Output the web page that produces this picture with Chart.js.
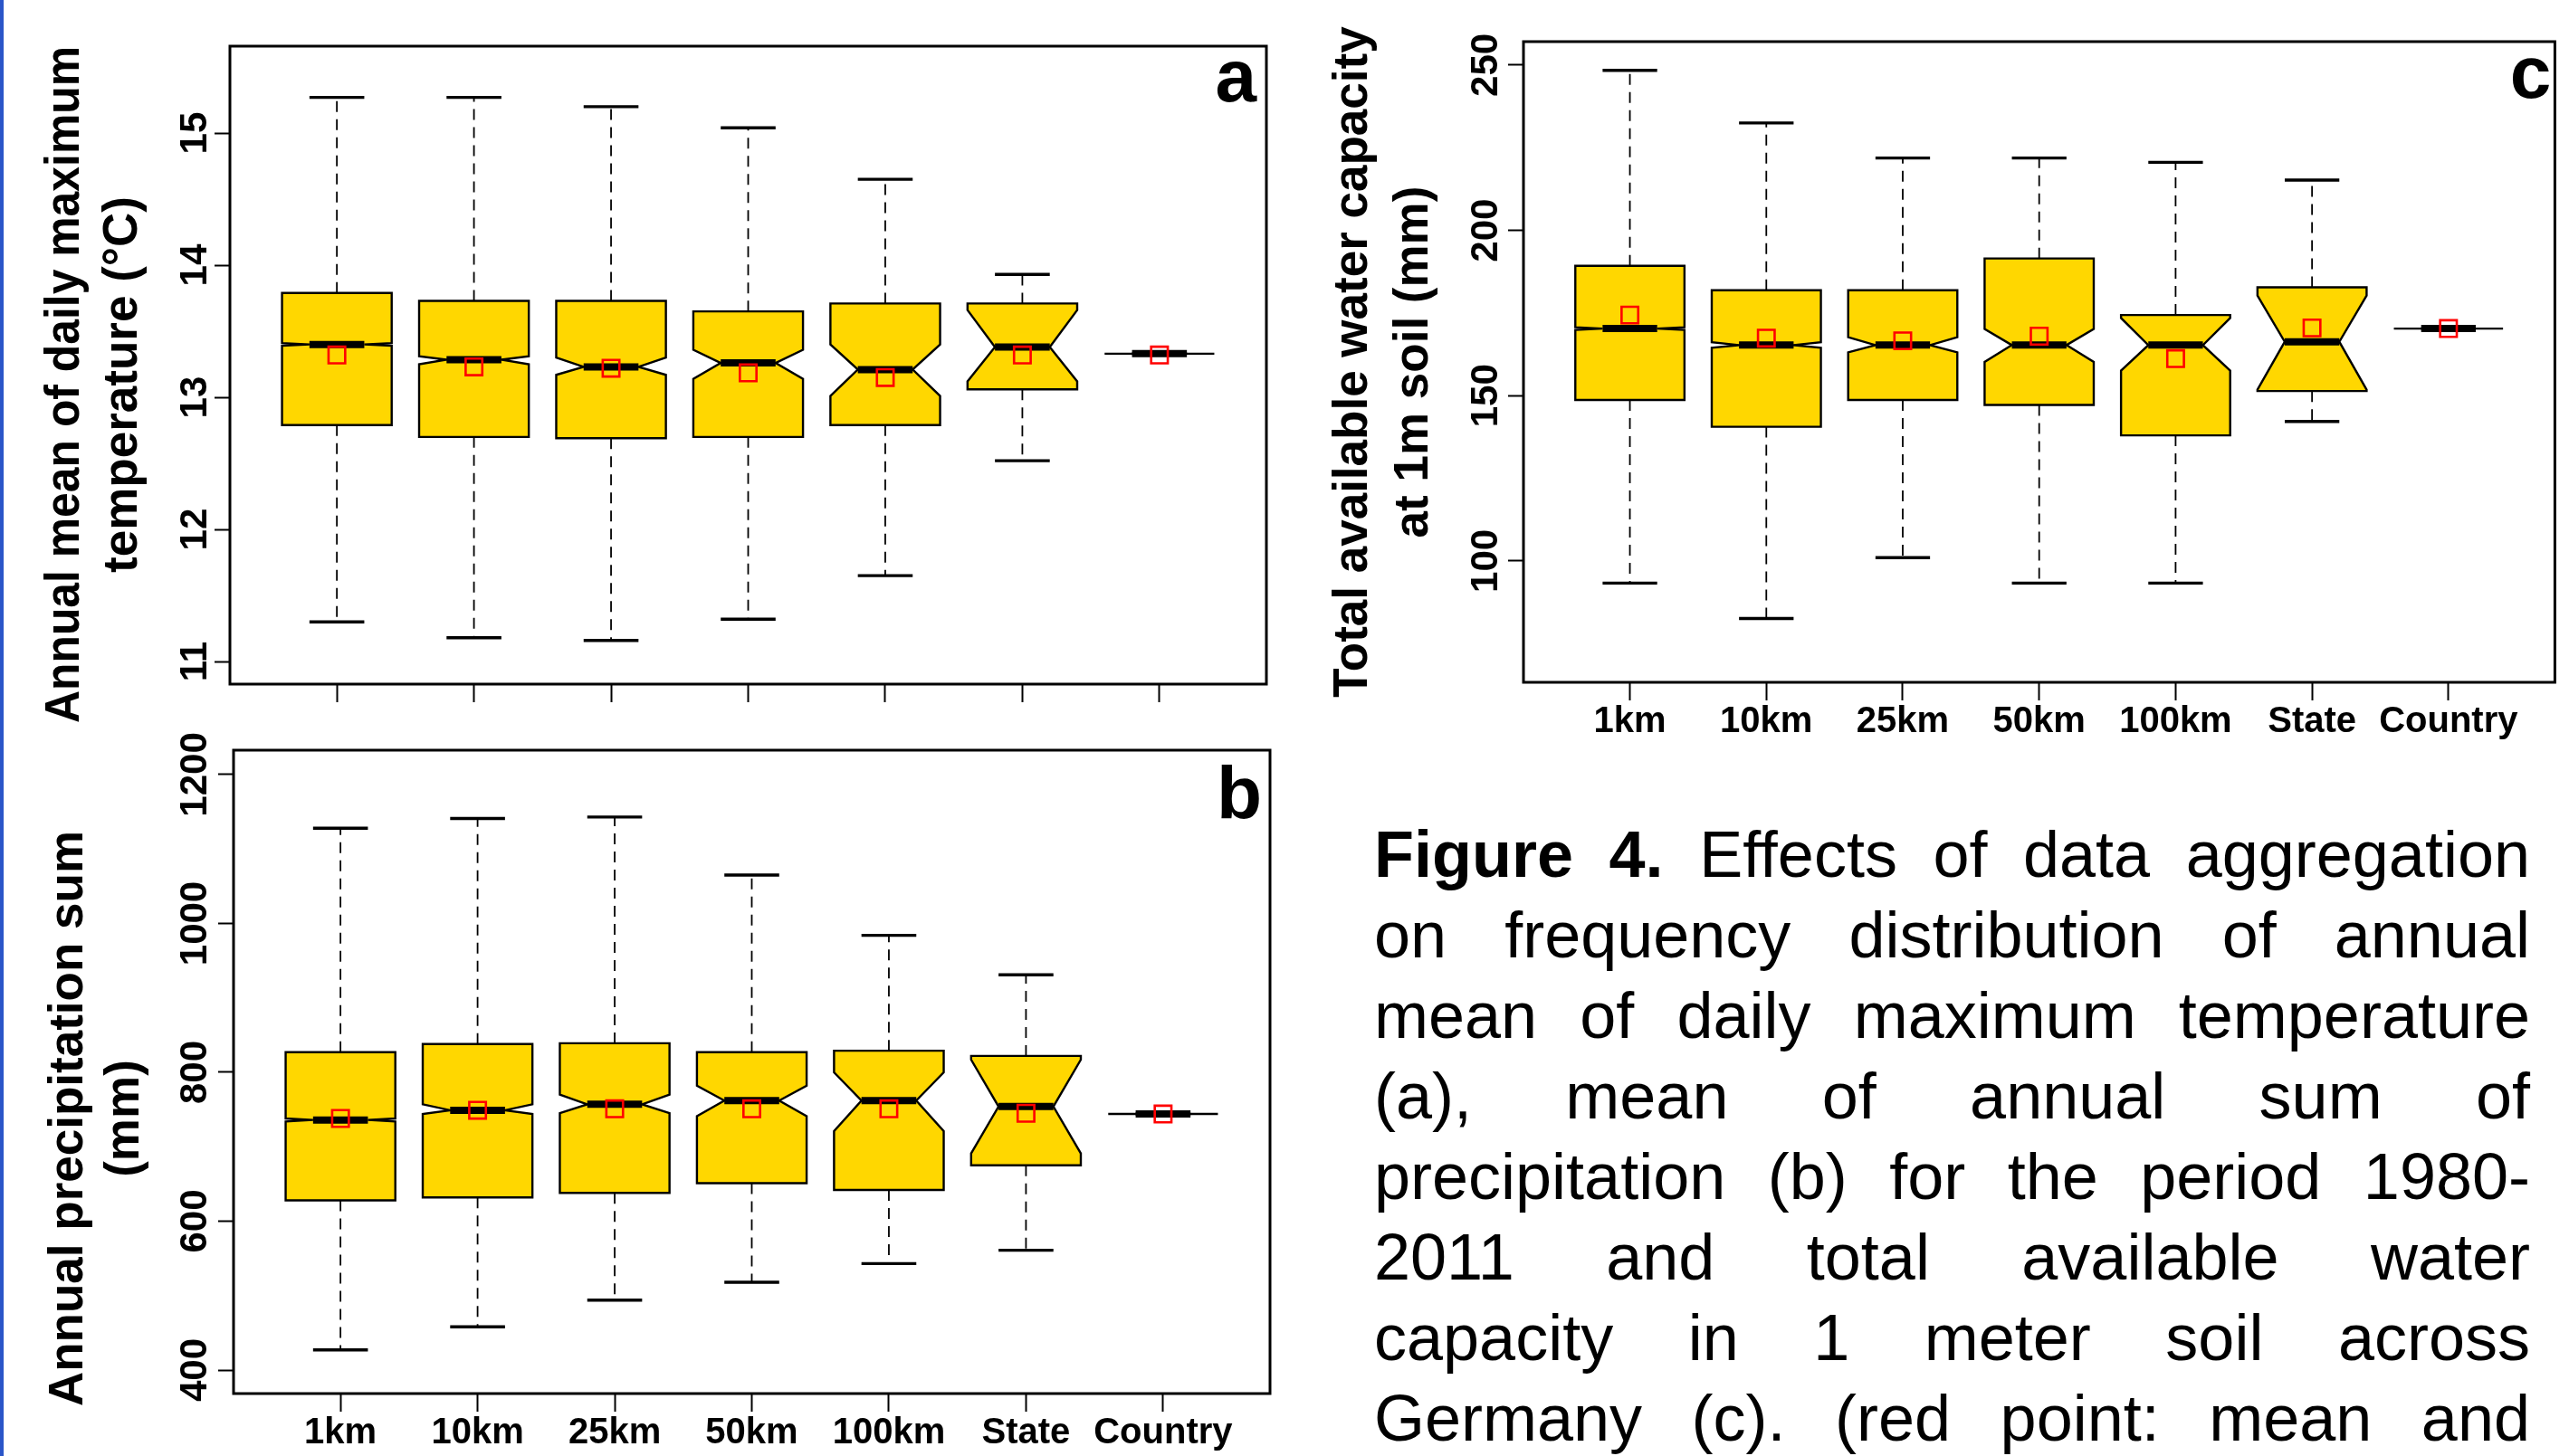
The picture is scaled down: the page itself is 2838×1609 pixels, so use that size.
<!DOCTYPE html>
<html>
<head>
<meta charset="utf-8">
<script src="https://cdn.jsdelivr.net/npm/chart.js@4.4.1/dist/chart.umd.min.js"></script>
<style>
  html, body { margin:0; padding:0; background:#fff; width:2838px; height:1609px; overflow:hidden; position:relative; }
  canvas { position:absolute; }
  #chartA { left:0; top:0; width:1420px; height:799px; }
  #chartB { left:0; top:790px; width:1420px; height:853px; }
  #chartC { left:1440px; top:0; width:1398px; height:830px; }
  #leftbar { position:absolute; left:0; top:0; width:4px; height:1609px; background:#2a55c8; }
  #caption { position:absolute; left:1518px; top:900px; width:1277px;
    font-family:'Liberation Sans', Arial, Helvetica, sans-serif; font-size:72px; line-height:89px; color:#000; }
  #caption div { text-align:justify; text-align-last:justify; }
</style>
</head>
<body>
<canvas id="chartA" width="1420" height="799"></canvas>
<canvas id="chartB" width="1420" height="853"></canvas>
<canvas id="chartC" width="1398" height="830"></canvas>
<div id="leftbar"></div>
<div id="caption">
  <div><b>Figure 4.</b> Effects of data aggregation</div>
  <div>on frequency distribution of annual</div>
  <div>mean of daily maximum temperature</div>
  <div>(a), mean of annual sum of</div>
  <div>precipitation (b) for the period 1980-</div>
  <div>2011 and total available water</div>
  <div>capacity in 1 meter soil across</div>
  <div>Germany (c). (red point: mean and</div>
</div>
<script>
const categories = ['1km', '10km', '25km', '50km', '100km', 'State', 'Country'];

// Panel a: annual mean of daily maximum temperature (°C)
const tempTicks = [11, 12, 13, 14, 15];
const tempWhiskerLow  = [11.30, 11.18, 11.16, 11.32, 11.65, 12.52, 13.33];
const tempQ1          = [12.79, 12.70, 12.69, 12.70, 12.79, 13.06, 13.33];
const tempMedian      = [13.40, 13.285, 13.23, 13.26, 13.21, 13.38, 13.33];
const tempQ3          = [13.79, 13.73, 13.73, 13.65, 13.71, 13.71, 13.33];
const tempWhiskerHigh = [15.27, 15.27, 15.20, 15.04, 14.65, 13.93, 13.33];
const tempNotchLow    = [13.39, 13.25, 13.17, 13.14, 13.01, 13.12, 13.33];
const tempNotchHigh   = [13.41, 13.31, 13.30, 13.36, 13.40, 13.66, 13.33];
const tempMean        = [13.32, 13.23, 13.22, 13.185, 13.15, 13.32, 13.32];

// Panel b: annual precipitation sum (mm)
const precipTicks = [400, 600, 800, 1000, 1200];
const precipWhiskerLow  = [427, 458, 494, 518, 543, 561, 744];
const precipQ1          = [628, 632, 638, 651, 642, 675, 744];
const precipMedian      = [736, 749, 757, 762, 762, 754, 744];
const precipQ3          = [827, 838, 839, 827, 829, 822, 744];
const precipWhiskerHigh = [1128, 1141, 1143, 1065, 984, 931, 744];
const precipNotchLow    = [734, 744, 745, 741, 721, 691, 744];
const precipNotchHigh   = [738, 757, 770, 782, 800, 817, 744];
const precipMean        = [738, 749, 751, 751, 751, 745, 744];

// Panel c: total available water capacity at 1m soil (mm)
const awcTicks = [100, 150, 200, 250];
const awcWhiskerLow  = [93.3, 82.6, 101.0, 93.3, 93.3, 142.2, 170.3];
const awcQ1          = [148.7, 140.6, 148.7, 147.2, 138.0, 151.4, 170.3];
const awcMedian      = [170.3, 165.3, 165.3, 165.3, 165.3, 166.3, 170.3];
const awcQ3          = [189.3, 181.9, 181.9, 191.5, 174.4, 182.8, 170.3];
const awcWhiskerHigh = [248.4, 232.5, 221.9, 221.9, 220.6, 215.2, 170.3];
const awcNotchLow    = [169.9, 164.5, 163.1, 160.2, 157.6, 151.8, 170.3];
const awcNotchHigh   = [170.7, 166.2, 167.7, 170.2, 173.5, 180.3, 170.3];
const awcMean        = [174.4, 167.4, 166.6, 168.0, 161.2, 170.5, 170.3];

Chart.defaults.font.family = "'Liberation Sans', Arial, Helvetica, sans-serif";
Chart.defaults.color = '#000';

const TITLE_SIZE = 53;

function makeBoxPlugin(cfg) {
  return {
    id: 'notchedBoxes',
    beforeDatasetsDraw(chart) {
      const ctx = chart.ctx;
      const xs = chart.scales.x, ys = chart.scales.y;
      const s = cfg.stats;
      const halfW = 0.4, notchFrac = 0.5, staple = 0.2;
      ctx.save();
      for (let i = 0; i < categories.length; i++) {
        const xc = i + 1;
        const X = d => xs.getPixelForValue(xc + d);
        const Y = v => ys.getPixelForValue(v);
        ctx.strokeStyle = '#000';
        ctx.lineWidth = 1.8;
        ctx.setLineDash([12, 8]);
        ctx.beginPath();
        ctx.moveTo(X(0), Y(s.q3[i])); ctx.lineTo(X(0), Y(s.hi[i]));
        ctx.moveTo(X(0), Y(s.q1[i])); ctx.lineTo(X(0), Y(s.lo[i]));
        ctx.stroke();
        ctx.setLineDash([]);
        ctx.lineWidth = 3.4;
        ctx.beginPath();
        ctx.moveTo(X(-staple), Y(s.hi[i])); ctx.lineTo(X(staple), Y(s.hi[i]));
        ctx.moveTo(X(-staple), Y(s.lo[i])); ctx.lineTo(X(staple), Y(s.lo[i]));
        ctx.stroke();
        const pts = [
          [-halfW, s.q1[i]], [halfW, s.q1[i]], [halfW, s.nlo[i]], [halfW * notchFrac, s.med[i]],
          [halfW, s.nhi[i]], [halfW, s.q3[i]], [-halfW, s.q3[i]], [-halfW, s.nhi[i]],
          [-halfW * notchFrac, s.med[i]], [-halfW, s.nlo[i]]
        ];
        ctx.beginPath();
        pts.forEach((p, k) => { if (k === 0) ctx.moveTo(X(p[0]), Y(p[1])); else ctx.lineTo(X(p[0]), Y(p[1])); });
        ctx.closePath();
        ctx.fillStyle = '#FFD700';
        ctx.fill();
        ctx.lineWidth = 2.4;
        ctx.lineJoin = 'miter';
        ctx.stroke();
        ctx.lineWidth = 8;
        ctx.lineCap = 'butt';
        ctx.beginPath();
        ctx.moveTo(X(-halfW * notchFrac), Y(s.med[i])); ctx.lineTo(X(halfW * notchFrac), Y(s.med[i]));
        ctx.stroke();
      }
      ctx.restore();
    },
    afterDraw(chart) {
      const ctx = chart.ctx;
      const a = chart.chartArea;
      ctx.save();
      ctx.strokeStyle = '#000';
      ctx.lineWidth = 3;
      ctx.strokeRect(a.left, a.top, a.right - a.left, a.bottom - a.top);
      ctx.fillStyle = '#000';
      ctx.font = "bold 82px 'Liberation Sans', Arial, sans-serif";
      ctx.textAlign = 'right';
      ctx.textBaseline = 'alphabetic';
      ctx.fillText(cfg.letter, a.right - cfg.letterRight, a.top + cfg.letterBase);
      ctx.restore();
    }
  };
}

function makePanel(cfg) {
  const titleFont = { size: TITLE_SIZE, weight: 'bold', lineHeight: cfg.titleLineHeight };
  const usePluginTitle = cfg.titleMode === 'plugin';
  const titleBoxWidth = usePluginTitle ? cfg.title.length * TITLE_SIZE * cfg.titleLineHeight + cfg.titlePad : 0;
  return new Chart(document.getElementById(cfg.id), {
    type: 'scatter',
    data: {
      datasets: [{
        label: 'mean',
        data: categories.map((c, i) => ({ x: i + 1, y: cfg.mean[i] })),
        pointStyle: 'rect',
        pointRadius: 13,
        pointHoverRadius: 13,
        borderColor: '#ff0000',
        backgroundColor: 'rgba(0,0,0,0)',
        borderWidth: 2.6
      }]
    },
    options: {
      responsive: false,
      animation: false,
      events: [],
      layout: { padding: cfg.padding },
      plugins: {
        legend: { display: false },
        tooltip: { enabled: false },
        title: {
          display: usePluginTitle, position: 'left', fullSize: true,
          text: cfg.title, color: '#000', font: titleFont,
          padding: { top: cfg.titlePad, bottom: 0 }
        }
      },
      scales: {
        x: {
          type: 'linear', min: 0.22, max: 7.78,
          afterBuildTicks: s => { s.ticks = categories.map((c, i) => ({ value: i + 1 })); },
          afterFit: s => { s.height = cfg.xAxisHeight; },
          ticks: {
            autoSkip: false, maxRotation: 0, minRotation: 0, padding: 0,
            color: '#000', font: { size: 40, weight: 'bold' },
            callback: v => cfg.showCategories ? categories[Math.round(v) - 1] : ''
          },
          grid: { drawOnChartArea: false, drawTicks: true, tickLength: 20, tickWidth: 2, tickColor: '#000' },
          border: { display: false }
        },
        y: {
          type: 'linear', min: cfg.yMin, max: cfg.yMax,
          afterBuildTicks: s => { s.ticks = cfg.ticks.map(v => ({ value: v })); },
          afterFit: s => { s.width = cfg.chartLeft - titleBoxWidth; },
          ticks: {
            minRotation: 90, maxRotation: 90, crossAlign: 'center', padding: cfg.yTickPadding,
            color: '#000', font: { size: 42, weight: 'bold' },
            callback: v => String(v)
          },
          grid: { drawOnChartArea: false, drawTicks: true, tickLength: 17, tickWidth: 2, tickColor: '#000' },
          border: { display: false },
          title: {
            display: !usePluginTitle, text: cfg.title, color: '#000', font: titleFont,
            padding: { top: cfg.titlePad, bottom: 0 }
          }
        }
      }
    },
    plugins: [makeBoxPlugin(cfg)]
  });
}

makePanel({
  id: 'chartA', letter: 'a', letterRight: 11, letterBase: 61,
  title: ['Annual mean of daily maximum', 'temperature (°C)'], titleMode: 'plugin',
  titleLineHeight: 1.2, titlePad: 41,
  ticks: tempTicks, yMin: 10.829, yMax: 15.658,
  chartLeft: 254, xAxisHeight: 43, padding: { top: 51, right: 21, left: 0, bottom: 0 },
  yTickPadding: -2.4, showCategories: false,
  mean: tempMean,
  stats: { lo: tempWhiskerLow, q1: tempQ1, med: tempMedian, q3: tempQ3, hi: tempWhiskerHigh, nlo: tempNotchLow, nhi: tempNotchHigh }
});

makePanel({
  id: 'chartB', letter: 'b', letterRight: 9, letterBase: 75,
  title: ['Annual precipitation sum', '(mm)'], titleMode: 'plugin',
  titleLineHeight: 1.18, titlePad: 45,
  ticks: precipTicks, yMin: 368.4, yMax: 1232.8,
  chartLeft: 258, xAxisHeight: 103, padding: { top: 39, right: 17, left: 0, bottom: 0 },
  yTickPadding: -21.7, showCategories: true,
  mean: precipMean,
  stats: { lo: precipWhiskerLow, q1: precipQ1, med: precipMedian, q3: precipQ3, hi: precipWhiskerHigh, nlo: precipNotchLow, nhi: precipNotchHigh }
});

makePanel({
  id: 'chartC', letter: 'c', letterRight: 4, letterBase: 62,
  title: ['Total available water capacity', 'at 1m soil (mm)'], titleMode: 'axis',
  titleLineHeight: 1.26, titlePad: 22,
  ticks: awcTicks, yMin: 63.3, yMax: 257.1,
  chartLeft: 243, xAxisHeight: 76, padding: { top: 46, right: 14, left: 0, bottom: 0 },
  yTickPadding: -11, showCategories: true,
  mean: awcMean,
  stats: { lo: awcWhiskerLow, q1: awcQ1, med: awcMedian, q3: awcQ3, hi: awcWhiskerHigh, nlo: awcNotchLow, nhi: awcNotchHigh }
});
</script>
</body>
</html>
